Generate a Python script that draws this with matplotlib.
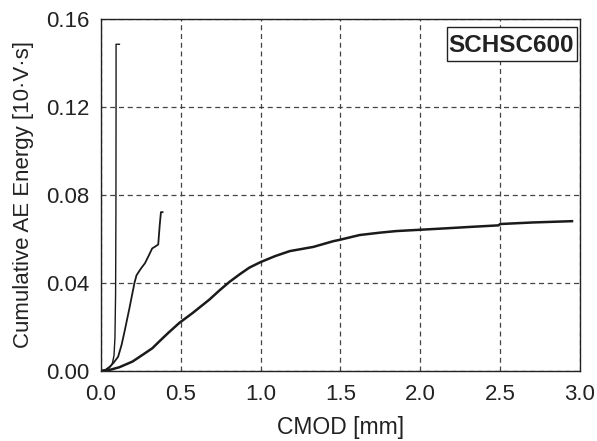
import matplotlib
matplotlib.use("Agg")
import matplotlib.pyplot as plt
from matplotlib.patches import Rectangle

plt.rcParams['font.family'] = ['Liberation Sans', 'DejaVu Sans']

# Series A (steep rise)
xa = [0.0, 0.03, 0.05, 0.065, 0.072, 0.082, 0.088, 0.092, 0.094, 0.095, 0.095, 0.116]
ya = [0.0, 0.0005, 0.0012, 0.0025, 0.0035, 0.007, 0.015, 0.035, 0.070, 0.120, 0.1485, 0.1485]

# Series B
xb = [0.0, 0.03, 0.056, 0.08, 0.108, 0.13, 0.15, 0.18, 0.21, 0.223, 0.25, 0.276, 0.30, 0.321, 0.345,
      0.359, 0.368, 0.376, 0.386]
yb = [0.0, 0.0006, 0.002, 0.0038, 0.0065, 0.012, 0.0186, 0.029, 0.040, 0.0435, 0.0465, 0.0490,
      0.0525, 0.0557, 0.0568, 0.0575, 0.066, 0.0722, 0.0722]

# Series C
xc = [0.0, 0.05, 0.115, 0.198, 0.26, 0.323, 0.365, 0.42, 0.49, 0.575, 0.68, 0.745, 0.805, 0.87,
      0.93, 1.0, 1.09, 1.183, 1.33, 1.455, 1.5, 1.62, 1.75, 1.85, 2.0, 2.15, 2.29, 2.49, 2.5,
      2.7, 2.95]
yc = [0.0, 0.0004, 0.0017, 0.0043, 0.0073, 0.0104, 0.0134, 0.0172, 0.0218, 0.0264, 0.0325,
      0.0368, 0.0405, 0.0440, 0.0470, 0.0495, 0.0522, 0.0545, 0.0564, 0.0590, 0.0597, 0.0618,
      0.0629, 0.0636, 0.0642, 0.0648, 0.0654, 0.0662, 0.0668, 0.0675, 0.0681]

xticks = [0.0, 0.5, 1.0, 1.5, 2.0, 2.5, 3.0]
yticks = [0.00, 0.04, 0.08, 0.12, 0.16]

fig = plt.figure(figsize=(5.97, 4.41), dpi=100)
ax = fig.add_axes([0.169, 0.1587, 0.9715 - 0.169, 0.957 - 0.1587])

ax.plot(xa, ya, color='#1a1a1a', lw=1.0)
ax.plot(xb, yb, color='#1a1a1a', lw=1.3)
ax.plot(xc, yc, color='#1a1a1a', lw=1.8)

ax.set_xlim(0, 3.0)
ax.set_ylim(0, 0.16)
ax.set_xticks(xticks)
ax.set_xticklabels([f"{v:.1f}" for v in xticks])
ax.set_yticks(yticks)
ax.set_yticklabels([f"{v:.2f}" for v in yticks])
ax.tick_params(axis='both', direction='in', length=0, labelsize=16, colors='#222222')
ax.tick_params(axis='x', pad=9)
ax.tick_params(axis='y', pad=8)
ax.grid(True, linestyle=(0, (4, 3)), color='#444444', lw=0.9)
for s in ax.spines.values():
    s.set_color('#222222')
    s.set_linewidth(1.0)

ax.set_xlabel('CMOD [mm]', fontsize=16.5, color='#222222', labelpad=8)
ax.set_ylabel('Cumulative AE Energy [10·V·s]', fontsize=16, color='#222222', labelpad=9)

ax.add_patch(Rectangle((0.7217, 0.8815), 0.993 - 0.7217, 0.978 - 0.8815, transform=ax.transAxes,
                       facecolor='white', edgecolor='#222222', lw=1.0, zorder=5))
ax.text(0.856, 0.907, 'SCHSC600', transform=ax.transAxes, ha='center', va='baseline',
        fontsize=17.5, fontweight='bold', color='#222222', zorder=6)

fig.savefig('out.png', dpi=100)
